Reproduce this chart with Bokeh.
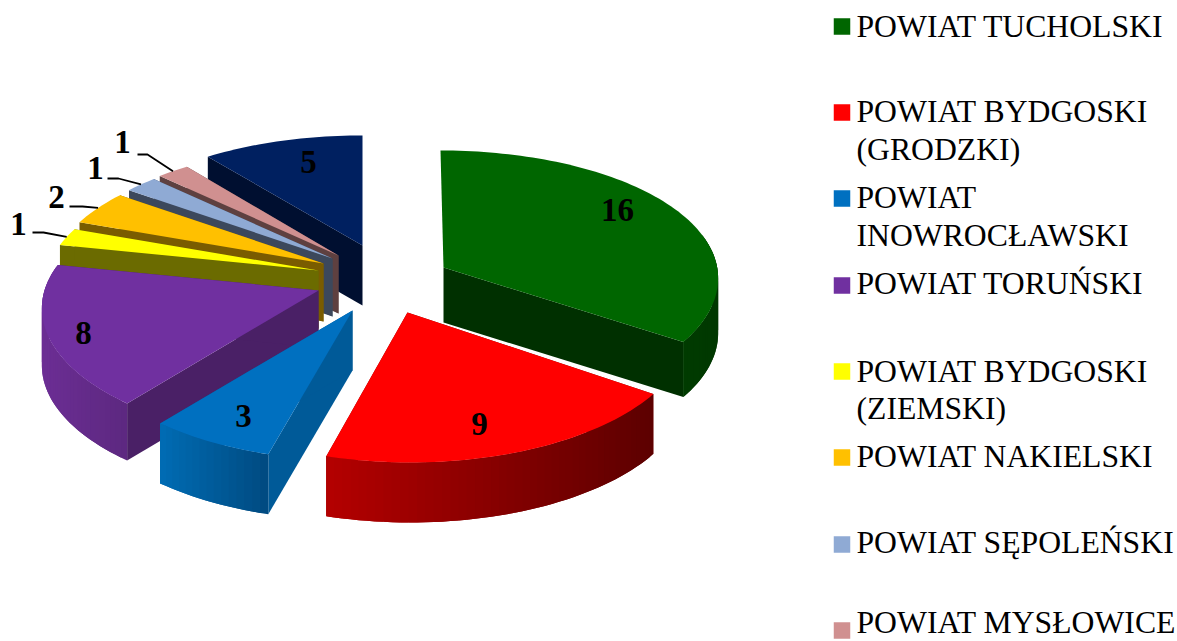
import math
from bokeh.plotting import figure
from bokeh.models import Range1d
from bokeh.core.properties import value
from bokeh.embed import file_html
from bokeh.resources import INLINE

# data
categories = ["POWIAT TUCHOLSKI", "POWIAT BYDGOSKI (GRODZKI)", "POWIAT INOWROCŁAWSKI", "POWIAT TORUŃSKI",
              "POWIAT BYDGOSKI (ZIEMSKI)", "POWIAT NAKIELSKI", "POWIAT SĘPOLEŃSKI", "POWIAT MYSŁOWICE", "POZOSTAŁE"]
values = [16, 9, 3, 8, 1, 2, 1, 1, 5]

# styles
top_colors = ["#006600", "#ff0000", "#0070c0", "#7030a0", "#ffff00", "#ffc000", "#8faad4", "#d09090", "#002060"]
wall_colors = ["#003000", "#7a0000", "#005a98", "#4a2066", "#6b6b00", "#7a5c00", "#3c485c", "#5e4040", "#000f30"]
rim_left = ["#005200", "#b40000", "#006cb4", "#6c2e94", "#6b6b00", "#7a5c00", "#3c485c", "#5e4040", "#000f30"]
rim_right = ["#003800", "#5c0000", "#004a80", "#5c2880", "#6b6b00", "#7a5c00", "#3c485c", "#5e4040", "#000f30"]

# layout: exploded tip of each slice, in page pixels, extrusion depth, rim nudge
tip_x = [443, 407, 352, 318, 318, 323, 332, 338, 362]
tip_y = [267, 312, 310, 290, 270, 263, 258, 255, 245]
depth = [55, 60, 60, 57, 58, 58, 58, 58, 60]
rim_dx = [-3, 3, 0, 1, 3, 3, 3, 3, 0]
rim_dy = [-7, 0, 0, 0, 0, 0, 0, 0, 0]
RX, RY, RY2, PERSP = 275.0, 130.0, 20.0, 0.14
draw_order = [8, 7, 6, 5, 4, 3, 2, 1, 0]

label_x = [617, 479, 243, 83, 18, 56, 95, 122, 308]
label_y = [209, 423, 415, 332, 223, 196, 167, 141, 161]
# leader elbows for the small slices
elbow = {4: (32, 43, 232), 5: (69, 82, 206), 6: (107, 118, 178), 7: (137, 147, 154)}

legend_rows = [
    (0, ["POWIAT TUCHOLSKI"], [26], 26),
    (1, ["POWIAT BYDGOSKI", "(GRODZKI)"], [111, 149], 112),
    (2, ["POWIAT", "INOWROCŁAWSKI"], [197, 235], 198),
    (3, ["POWIAT TORUŃSKI"], [283], 285),
    (4, ["POWIAT BYDGOSKI", "(ZIEMSKI)"], [371, 408], 371),
    (5, ["POWIAT NAKIELSKI"], [456], 457),
    (6, ["POWIAT SĘPOLEŃSKI"], [542], 544),
    (7, ["POWIAT MYSŁOWICE"], [622], 630),
]


def hex2rgb(h):
    return tuple(int(h[i:i + 2], 16) for i in (1, 3, 5))


def mix(a, b, t):
    ca, cb = hex2rgb(a), hex2rgb(b)
    return "#%02x%02x%02x" % tuple(round(ca[i] + (cb[i] - ca[i]) * t) for i in range(3))


def rim_pt(i, ang):
    a = math.radians(ang)
    u, w = math.sin(a), -math.cos(a)
    return (tip_x[i] + rim_dx[i] + RX * u * (1 + PERSP * w),
            tip_y[i] + rim_dy[i] + RY * w + RY2 * w * w)


total = sum(values)
starts, ends = [], []
acc = 0
for v in values:
    starts.append(acc / total * 360)
    acc += v
    ends.append(acc / total * 360)

p = figure(width=1177, height=641, output_backend="svg", toolbar_location=None,
           x_range=Range1d(0, 1177), y_range=Range1d(641, 0), min_border=0)
p.axis.visible = False
p.grid.visible = False
p.outline_line_color = None
p.background_fill_color = "#ffffff"

xs, ys, cs = [], [], []


def add(px, py, c):
    xs.append(px)
    ys.append(py)
    cs.append(c)


for i in draw_order:
    a0, a1 = starts[i], ends[i]
    d = depth[i]
    # radial walls (a wall seen edge-on at the top of the pie is not drawn)
    for ang in (a0, a1):
        x, y = rim_pt(i, ang)
        if abs(x - tip_x[i]) < 6:
            continue
        add([tip_x[i], x, x, tip_x[i]], [tip_y[i], y, y + d, tip_y[i] + d], wall_colors[i])
    # rim, in short overlapping strips shaded from left to right
    n = max(4, int((a1 - a0) / 1.5))
    angs = [a0 + (a1 - a0) * k / n for k in range(n + 1)]
    pts = [rim_pt(i, a) for a in angs]
    xmin, xmax = min(q[0] for q in pts), max(q[0] for q in pts)
    # only the rim that faces the viewer is drawn
    for k in range(n):
        if -math.cos(math.radians(angs[k + 1])) < -0.2 and i in (0, 8, 7, 6, 5, 4):
            continue
        j = min(k + 2, n)
        t = ((pts[k][0] + pts[k + 1][0]) / 2 - xmin) / max(xmax - xmin, 1)
        add([pts[m][0] for m in range(k, j + 1)] + [pts[m][0] for m in range(j, k - 1, -1)],
            [pts[m][1] for m in range(k, j + 1)] + [pts[m][1] + d for m in range(j, k - 1, -1)],
            mix(rim_left[i], rim_right[i], t))
    # top face
    add([tip_x[i]] + [q[0] for q in pts], [tip_y[i]] + [q[1] for q in pts], top_colors[i])

p.patches(xs, ys, fill_color=cs, line_color=None)

# leader lines
for i, (x0, x1, y0) in elbow.items():
    ex, ey = rim_pt(i, (starts[i] + ends[i]) / 2)
    p.line([x0, x1, ex], [y0, y0, ey], line_color="#000000", line_width=1.8)

# data labels
p.text(label_x, label_y, text=[str(v) for v in values], text_font=value("Liberation Serif"),
       text_font_style="bold", text_font_size="33px", text_align="center",
       text_baseline="middle", text_color="#000000")

# legend
for i, lines, bases, sq in legend_rows:
    p.scatter([841.5], [sq], marker="square", size=16.5, fill_color=top_colors[i], line_color=None)
    p.text([856] * len(lines), bases, text=lines, text_font=value("Liberation Serif"),
           text_font_size="31.7px", text_align="left", text_baseline="middle", text_color="#000000")

open("out.html", "w").write(file_html(p, INLINE))
